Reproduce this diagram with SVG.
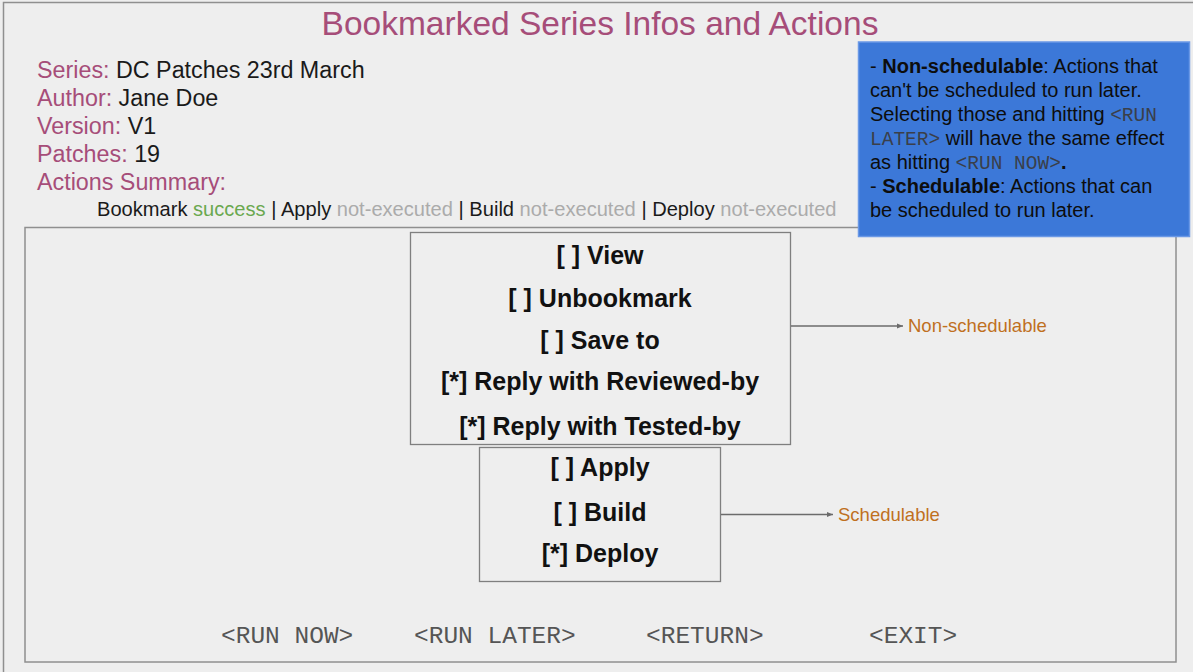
<svg xmlns="http://www.w3.org/2000/svg" width="1193" height="672" viewBox="0 0 1193 672">
<defs>
<style>
.bg{fill:#eeeeee}
.frame{fill:none;stroke:#8f8f8f;stroke-width:1.5}
.box{fill:none;stroke:#7f7f7f;stroke-width:1.3}
.sans{font-family:"Liberation Sans",Arial,sans-serif}
.mono{font-family:"Liberation Mono","Courier New",monospace}
.lbl{fill:#a64d79}
.val{fill:#1a1a1a}
.item{font-family:"Liberation Sans",Arial,sans-serif;font-weight:bold;font-size:25px;fill:#111;text-anchor:middle}
.btn{font-family:"Liberation Mono","Courier New",monospace;font-size:24.5px;fill:#555}
.orange{font-family:"Liberation Sans",Arial,sans-serif;font-size:18.5px;fill:#c0701e}
.conn{stroke:#6b6b6b;stroke-width:1.3;fill:none}
.legend{font-family:"Liberation Sans",Arial,sans-serif;font-size:20px;fill:#0d0d0d}
.lm{font-family:"Liberation Mono","Courier New",monospace;font-size:19.5px;fill:#3a3f4a}
</style>
<marker id="arr" viewBox="0 0 10 10" refX="10" refY="5" markerWidth="6" markerHeight="6" orient="auto" markerUnits="userSpaceOnUse">
<path d="M0,1 L10,5 L0,9 z" fill="#6b6b6b"/>
</marker>
</defs>
<rect class="bg" x="0" y="0" width="1193" height="672"/>
<rect class="frame" x="3.5" y="2.5" width="1210" height="690"/>
<rect class="frame" x="25" y="227.5" width="1151" height="434.5"/>

<g id="title">
<text class="sans" x="600" y="35" font-size="33.5" fill="#a64d79" text-anchor="middle">Bookmarked Series Infos and Actions</text>
</g>

<g id="info" class="sans" font-size="23.3">
<text x="37" y="78"><tspan class="lbl">Series:</tspan><tspan class="val"> DC Patches 23rd March</tspan></text>
<text x="37" y="106"><tspan class="lbl">Author:</tspan><tspan class="val"> Jane Doe</tspan></text>
<text x="37" y="134"><tspan class="lbl">Version:</tspan><tspan class="val"> V1</tspan></text>
<text x="37" y="162"><tspan class="lbl">Patches:</tspan><tspan class="val"> 19</tspan></text>
<text x="37" y="190" class="lbl">Actions Summary:</text>
<text x="97" y="216" font-size="20.1"><tspan class="val">Bookmark </tspan><tspan fill="#6aa84f">success</tspan><tspan class="val"> | Apply </tspan><tspan fill="#ababab">not-executed</tspan><tspan class="val"> | Build </tspan><tspan fill="#ababab">not-executed</tspan><tspan class="val"> | Deploy </tspan><tspan fill="#ababab">not-executed</tspan></text>
</g>

<g id="legend">
<rect x="858.5" y="42" width="331" height="194.5" fill="#3c78d8" stroke="#6a98e6" stroke-width="1.5"/>
<text class="legend" x="870" y="73">- <tspan font-weight="bold">Non-schedulable</tspan>: Actions that</text>
<text class="legend" x="870" y="97">can't be scheduled to run later.</text>
<text class="legend" x="870" y="121">Selecting those and hitting <tspan class="lm">&lt;RUN</tspan></text>
<text class="legend" x="870" y="145"><tspan class="lm">LATER&gt;</tspan> will have the same effect</text>
<text class="legend" x="870" y="169">as hitting <tspan class="lm">&lt;RUN NOW&gt;</tspan><tspan font-weight="bold">.</tspan></text>
<text class="legend" x="870" y="193">- <tspan font-weight="bold">Schedulable</tspan>: Actions that can</text>
<text class="legend" x="870" y="217">be scheduled to run later.</text>
</g>

<g id="non-schedulable-box">
<rect class="box" x="410.5" y="232.5" width="380" height="212"/>
<text class="item" x="600" y="264">[ ] View</text>
<text class="item" x="600" y="307">[ ] Unbookmark</text>
<text class="item" x="600" y="349">[ ] Save to</text>
<text class="item" x="600" y="390">[*] Reply with Reviewed-by</text>
<text class="item" x="600" y="435">[*] Reply with Tested-by</text>
</g>

<g id="schedulable-box">
<rect class="box" x="479.5" y="447.5" width="241" height="134"/>
<text class="item" x="600" y="476">[ ] Apply</text>
<text class="item" x="600" y="521">[ ] Build</text>
<text class="item" x="600" y="562">[*] Deploy</text>
</g>

<g id="connectors">
<line class="conn" x1="791" y1="326" x2="903" y2="326" marker-end="url(#arr)"/>
<line class="conn" x1="721" y1="514.5" x2="833" y2="514.5" marker-end="url(#arr)"/>
</g>

<g id="label-non-schedulable">
<text class="orange" x="908" y="332">Non-schedulable</text>
</g>
<g id="label-schedulable">
<text class="orange" x="838" y="520.5">Schedulable</text>
</g>

<g id="buttons">
<text class="btn" x="221" y="643">&lt;RUN NOW&gt;</text>
<text class="btn" x="414" y="643">&lt;RUN LATER&gt;</text>
<text class="btn" x="646" y="643">&lt;RETURN&gt;</text>
<text class="btn" x="869" y="643">&lt;EXIT&gt;</text>
</g>
</svg>
